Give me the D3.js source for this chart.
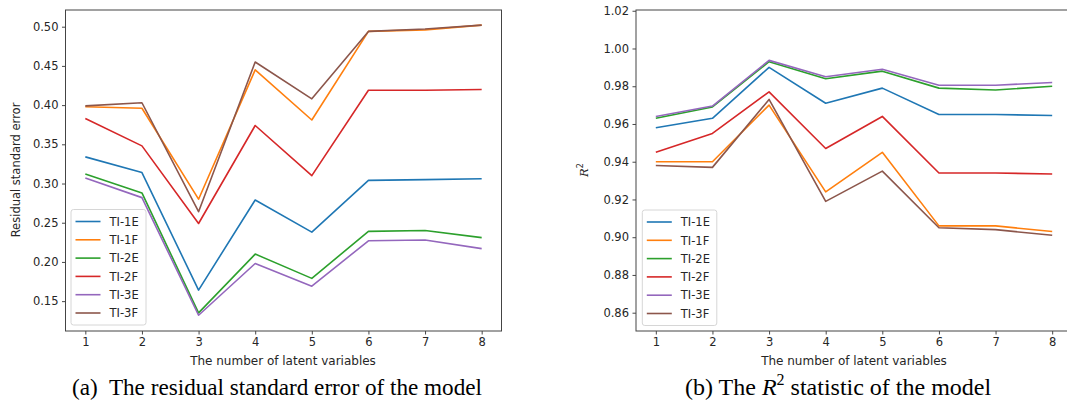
<!DOCTYPE html>
<html>
<head>
<meta charset="utf-8">
<script src="https://cdn.jsdelivr.net/npm/d3@7"></script>
<style>
  html, body { margin: 0; padding: 0; background: #fff; }
  svg { display: block; }
  .tick text { font-family: "DejaVu Sans", sans-serif; font-size: 11.5px; fill: #262626; }
</style>
</head>
<body>
<svg id="chart" width="1067" height="407"></svg>
<script>
const xValues = [1, 2, 3, 4, 5, 6, 7, 8];
const seriesNames = ["TI-1E", "TI-1F", "TI-2E", "TI-2F", "TI-3E", "TI-3F"];
const seriesColors = ["#1f77b4", "#ff7f0e", "#2ca02c", "#d62728", "#9467bd", "#8c564b"];

// (a) residual standard error
const rse_TI1E = [0.334, 0.314, 0.164, 0.279, 0.238, 0.304, 0.305, 0.306];
const rse_TI1F = [0.398, 0.396, 0.280, 0.445, 0.381, 0.494, 0.496, 0.502];
const rse_TI2E = [0.312, 0.288, 0.135, 0.210, 0.179, 0.239, 0.240, 0.231];
const rse_TI2F = [0.383, 0.348, 0.249, 0.374, 0.310, 0.419, 0.419, 0.420];
const rse_TI3E = [0.307, 0.282, 0.132, 0.198, 0.169, 0.227, 0.228, 0.217];
const rse_TI3F = [0.399, 0.403, 0.264, 0.455, 0.408, 0.494, 0.497, 0.502];

// (b) R^2 statistic
const r2_TI1E = [0.958, 0.963, 0.990, 0.971, 0.979, 0.965, 0.965, 0.9645];
const r2_TI1F = [0.940, 0.940, 0.970, 0.924, 0.945, 0.906, 0.906, 0.903];
const r2_TI2E = [0.963, 0.969, 0.993, 0.984, 0.988, 0.979, 0.978, 0.980];
const r2_TI2F = [0.945, 0.955, 0.977, 0.947, 0.964, 0.934, 0.934, 0.9335];
const r2_TI3E = [0.964, 0.9695, 0.9937, 0.985, 0.989, 0.9805, 0.9805, 0.982];
const r2_TI3F = [0.938, 0.937, 0.973, 0.919, 0.935, 0.905, 0.904, 0.901];

const rseTicks = [0.15, 0.20, 0.25, 0.30, 0.35, 0.40, 0.45, 0.50];
const r2Ticks = [0.86, 0.88, 0.90, 0.92, 0.94, 0.96, 0.98, 1.00, 1.02];

const rseSeries = [rse_TI1E, rse_TI1F, rse_TI2E, rse_TI2F, rse_TI3E, rse_TI3F];
const r2Series = [r2_TI1E, r2_TI1F, r2_TI2E, r2_TI2F, r2_TI3E, r2_TI3F];

const svg = d3.select("#chart");

function panel(cfg) {
  const g = svg.append("g");
  const x = d3.scaleLinear().domain([0.65, 8.35]).range([cfg.left, cfg.right]);
  const y = d3.scaleLinear().domain(cfg.yDomain).range([cfg.bottom, cfg.top]);

  const line = d3.line().x((d, i) => x(xValues[i])).y(d => y(d));
  cfg.series.forEach((vals, k) => {
    g.append("path").datum(vals)
      .attr("d", line)
      .attr("fill", "none")
      .attr("stroke", seriesColors[k])
      .attr("stroke-width", 1.6)
      .attr("stroke-linejoin", "round");
  });

  const xAxis = d3.axisBottom(x).tickValues(xValues).tickFormat(d3.format("d"))
    .tickSize(3.5).tickPadding(3.5);
  const yAxis = d3.axisLeft(y).tickValues(cfg.yTicks).tickFormat(d3.format(".2f"))
    .tickSize(3.5).tickPadding(3.5);
  const gx = g.append("g").attr("transform", `translate(0,${cfg.bottom})`).call(xAxis);
  const gy = g.append("g").attr("transform", `translate(${cfg.left},0)`).call(yAxis);
  [gx, gy].forEach(a => {
    a.select(".domain").remove();
    a.selectAll(".tick line").attr("stroke", "#333").attr("stroke-width", 0.9);
  });

  g.append("rect")
    .attr("x", cfg.left).attr("y", cfg.top)
    .attr("width", cfg.right - cfg.left).attr("height", cfg.bottom - cfg.top)
    .attr("fill", "none").attr("stroke", "#444").attr("stroke-width", 1);

  g.append("text")
    .attr("x", cfg.xLabelX).attr("y", 364.5)
    .attr("text-anchor", "middle")
    .attr("font-family", "DejaVu Sans, sans-serif").attr("font-size", 12)
    .attr("fill", "#262626")
    .text("The number of latent variables");

  const lg = g.append("g");
  lg.append("rect")
    .attr("x", cfg.legX).attr("y", cfg.legY)
    .attr("width", cfg.legW).attr("height", 115.5)
    .attr("rx", 2.5).attr("ry", 2.5)
    .attr("fill", "#fff").attr("fill-opacity", 0.8)
    .attr("stroke", "#d6d6d6").attr("stroke-width", 1);
  seriesNames.forEach((name, k) => {
    const yy = cfg.legY + 12 + k * 18.3;
    lg.append("line")
      .attr("x1", cfg.legX + 4.5).attr("x2", cfg.legX + 29.5)
      .attr("y1", yy).attr("y2", yy)
      .attr("stroke", seriesColors[k]).attr("stroke-width", 1.6);
    lg.append("text")
      .attr("x", cfg.legX + 38.5).attr("y", yy + 4.2)
      .attr("font-family", "DejaVu Sans, sans-serif").attr("font-size", 11.5)
      .attr("fill", "#262626")
      .text(name);
  });
  return g;
}

const gA = panel({
  left: 65.5, right: 501.5, top: 10, bottom: 331,
  yDomain: [0.1119, 0.5213], yTicks: rseTicks, series: rseSeries,
  xLabelX: 283, legX: 71, legY: 209.5, legW: 75
});
gA.append("text")
  .attr("transform", "translate(20,170) rotate(-90)")
  .attr("text-anchor", "middle")
  .attr("font-family", "DejaVu Sans, sans-serif").attr("font-size", 11.5)
  .attr("fill", "#262626")
  .text("Residual standard error");

const gB = panel({
  left: 636, right: 1072, top: 10, bottom: 331,
  yDomain: [0.8503, 1.0204], yTicks: r2Ticks, series: r2Series,
  xLabelX: 854, legX: 642.3, legY: 210, legW: 74.5
});
const r2Label = gB.append("text")
  .attr("transform", "translate(588,170) rotate(-90)")
  .attr("text-anchor", "middle")
  .attr("font-family", "DejaVu Serif, serif").attr("font-size", 11.5)
  .attr("fill", "#262626");
r2Label.append("tspan").attr("font-style", "italic").text("R");
r2Label.append("tspan").attr("font-family", "DejaVu Sans, sans-serif").attr("font-size", 8).attr("dy", -5).text("2");

// captions
svg.append("text")
  .attr("x", 72).attr("y", 395)
  .attr("font-family", "Liberation Serif, Times New Roman, serif").attr("font-size", 23.5)
  .attr("fill", "#000")
  .attr("textLength", 410).attr("lengthAdjust", "spacingAndGlyphs")
  .style("white-space", "pre")
  .text("(a)  The residual standard error of the model");

const capB = svg.append("text")
  .attr("x", 685).attr("y", 395)
  .attr("font-family", "Liberation Serif, Times New Roman, serif").attr("font-size", 24)
  .attr("fill", "#000")
  .style("white-space", "pre");
capB.append("tspan").text("(b) The ");
capB.append("tspan").attr("font-style", "italic").text("R");
capB.append("tspan").attr("font-size", 16).attr("dy", -10).text("2");
capB.append("tspan").attr("dy", 10).text(" statistic of the model");
</script>
</body>
</html>
